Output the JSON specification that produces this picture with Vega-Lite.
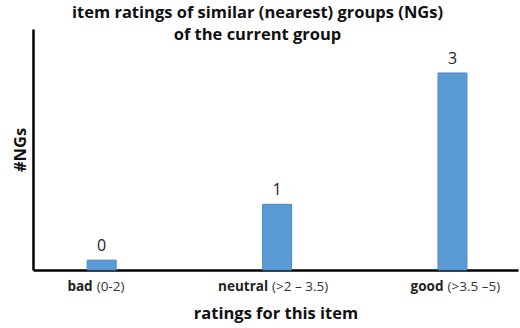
{
  "$schema": "https://vega.github.io/schema/vega-lite/v6.json",
  "autosize": {"type": "none"},
  "width": 485,
  "height": 241,
  "padding": {"left": 33, "top": 29, "right": 2, "bottom": 58},
  "background": "white",
  "title": {
    "text": ["item ratings of similar (nearest) groups (NGs)", "of the current group"],
    "anchor": "middle",
    "frame": "group",
    "font": "Open Sans",
    "fontSize": 16.5,
    "fontWeight": "bold",
    "color": "#111",
    "lineHeight": 22,
    "offset": -14,
    "dx": -18
  },
  "data": {
    "values": [
      {"cat": "bad", "bold": "bad", "rest": "(0-2)", "n": 0.15, "label": "0"},
      {"cat": "neutral", "bold": "neutral", "rest": "(>2 – 3.5)", "n": 1, "label": "1"},
      {"cat": "good", "bold": "good", "rest": "(>3.5 –5)", "n": 3, "label": "3"}
    ]
  },
  "encoding": {
    "x": {
      "field": "cat",
      "type": "nominal",
      "sort": ["bad", "neutral", "good"],
      "scale": {"paddingInner": 0.835, "paddingOuter": 0.3, "align": 0.515},
      "axis": {"title": "ratings for this item", "labels": false, "ticks": false, "titlePadding": 35}
    }
  },
  "layer": [
    {
      "mark": {"type": "bar", "color": "#5b9bd5", "stroke": "#4a88c2", "strokeWidth": 1},
      "encoding": {
        "y": {
          "field": "n",
          "type": "quantitative",
          "scale": {"domain": [0, 3.67], "nice": false},
          "axis": {"title": "#NGs", "labels": false, "ticks": false, "grid": false, "titlePadding": 5}
        }
      }
    },
    {
      "mark": {"type": "text", "baseline": "bottom", "dy": -6, "font": "Open Sans", "fontSize": 16, "color": "#222"},
      "encoding": {
        "y": {"field": "n", "type": "quantitative"},
        "text": {"field": "label"}
      }
    },
    {
      "mark": {"type": "text", "baseline": "middle", "align": "right", "dx": -9, "dy": 17, "font": "Open Sans", "fontSize": 13.5, "fontWeight": "bold", "color": "#222"},
      "encoding": {
        "y": {"datum": 0},
        "text": {"field": "bold"}
      }
    },
    {
      "mark": {"type": "text", "baseline": "middle", "align": "left", "dx": -5, "dy": 17, "font": "Open Sans", "fontSize": 13.5, "color": "#333"},
      "encoding": {
        "y": {"datum": 0},
        "text": {"field": "rest"}
      }
    }
  ],
  "config": {
    "view": {"stroke": null},
    "axis": {
      "grid": false,
      "domainColor": "#000",
      "domainWidth": 2.5,
      "titleFont": "Open Sans",
      "titleFontSize": 16.5,
      "titleFontWeight": "bold",
      "titleColor": "#111"
    }
  }
}
